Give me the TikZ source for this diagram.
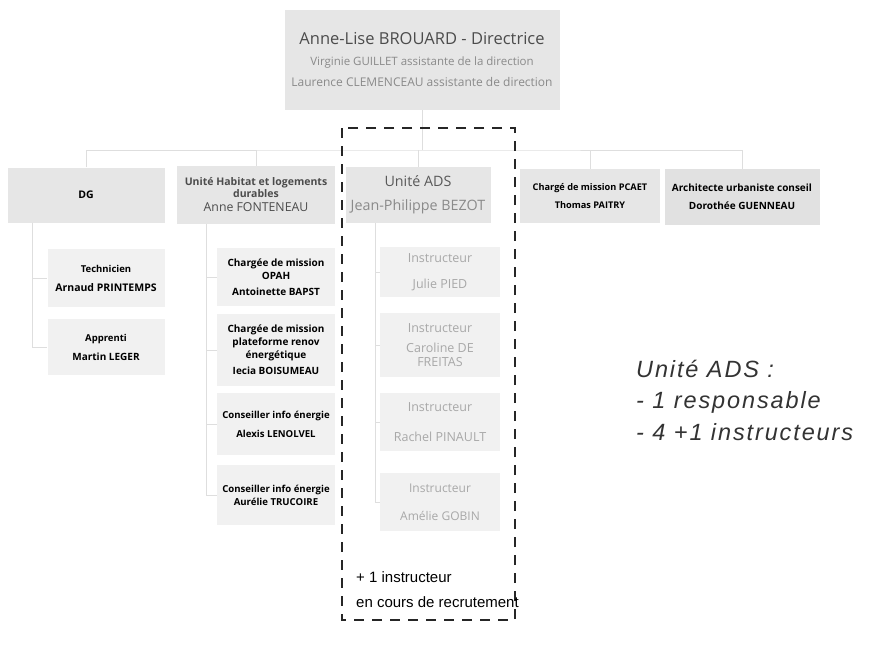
\documentclass[tikz,border=0pt]{standalone}
\usepackage{fontspec}
\setmainfont{Open Sans}
\newfontfamily\arialfont{Liberation Sans}
\newfontfamily\notefont[LetterSpace=8]{Liberation Sans}
\definecolor{boxgray}{HTML}{E6E6E6}
\definecolor{subgray}{HTML}{F1F1F1}
\definecolor{linkgray}{HTML}{DEDEDE}
\definecolor{txtgray}{HTML}{8A8A8A}
\definecolor{txtlight}{HTML}{A8A8A8}
\begin{document}
\begin{tikzpicture}[x=1pt, y=-1pt,
    unitbox/.style={fill=boxgray, draw=none, align=center, inner sep=1pt},
    subbox/.style={fill=subgray, draw=none, align=center, inner sep=1pt},
    link/.style={linkgray, line width=0.8pt}]
    \useasboundingbox (0,0) rectangle (889,645);

    % Direction
    \node[unitbox, minimum width=275, minimum height=100, text=txtgray,
        font=\fontsize{11.5}{21}\selectfont] (dir) at (422,60)
        {{\fontsize{16.5}{14}\selectfont\color{black!70}Anne-Lise BROUARD - Directrice}\\
         Virginie GUILLET assistante de la direction\\
         {\fontsize{12}{10}\selectfont Laurence CLEMENCEAU assistante de direction}};

    % Unités
    \node[unitbox, minimum width=157, minimum height=55, font=\bfseries\fontsize{10.5}{12}\selectfont] (dg) at (86,195) {DG};
    \node[unitbox, minimum width=158, minimum height=58, text=black!70, font=\fontsize{10.5}{12}\selectfont] (hab) at (256,195)
        {\textbf{Unité Habitat et logements}\\\textbf{durables}\\[2pt]{\fontsize{12.3}{12}\selectfont Anne FONTENEAU}};
    \node[unitbox, minimum width=145, minimum height=56, text=txtgray, font=\fontsize{14.3}{24}\selectfont] (ads) at (418,195)
        {{\color{black!65}Unité ADS}\\Jean-Philippe BEZOT};
    \node[unitbox, minimum width=140, minimum height=54, font=\bfseries\fontsize{9.2}{18}\selectfont] (pcaet) at (590,196)
        {Chargé de mission PCAET\\Thomas PAITRY};
    \node[unitbox, minimum width=155, minimum height=56, fill=boxgray!120, font=\bfseries\fontsize{10}{18}\selectfont] (archi) at (742,197)
        {Architecte urbaniste conseil\\Dorothée GUENNEAU};

    % Liens direction - unités
    \coordinate (bus) at (422,150);
    \draw[link] (dir.south) -- (bus);
    \draw[link] (dg.north) |- (bus) -| (archi.north);
    \draw[link] (hab.north) -- (hab.north |- bus);
    \draw[link] (ads.north) -- (ads.north |- bus);
    \draw[link] (pcaet.north) -- (pcaet.north |- bus);

    % DG
    \node[subbox, minimum width=117, minimum height=58, font=\bfseries\fontsize{10.5}{19}\selectfont] (tech) at (106,278)
        {{\fontsize{9.5}{10}\selectfont Technicien}\\Arnaud PRINTEMPS};
    \node[subbox, minimum width=117, minimum height=56, font=\bfseries\fontsize{10}{19}\selectfont] (appr) at (106,347)
        {{\fontsize{9.5}{10}\selectfont Apprenti}\\Martin LEGER};
    \draw[link] ([xshift=25]dg.south west) |- (tech.west);
    \draw[link] ([xshift=25]dg.south west) |- (appr.west);

    % Habitat
    \node[subbox, minimum width=118, minimum height=58, font=\bfseries\fontsize{10}{13}\selectfont] (opah) at (276,277)
        {Chargée de mission\\OPAH\\[3pt]Antoinette BAPST};
    \node[subbox, minimum width=118, minimum height=72, font=\bfseries\fontsize{10}{13}\selectfont] (renov) at (276,350)
        {Chargée de mission\\plateforme renov\\énergétique\\[3pt]Iecia BOISUMEAU};
    \node[subbox, minimum width=118, minimum height=62, font=\bfseries\fontsize{9.6}{19}\selectfont] (cie1) at (276,424)
        {Conseiller info énergie\\Alexis LENOLVEL};
    \node[subbox, minimum width=118, minimum height=60, font=\bfseries\fontsize{9.6}{13}\selectfont] (cie2) at (276,495)
        {Conseiller info énergie\\Aurélie TRUCOIRE};
    \foreach \sub in {opah,renov,cie1,cie2}
        \draw[link] ([xshift=30]hab.south west) |- (\sub.west);

    % ADS
    \node[subbox, minimum width=120, minimum height=50, text=txtlight, font=\fontsize{12.5}{26}\selectfont] (julie) at (440,272)
        {Instructeur\\Julie PIED};
    \node[subbox, minimum width=120, minimum height=64, text=txtlight, font=\fontsize{12.5}{22}\selectfont] (caro) at (440,345)
        {Instructeur\\[-2pt]Caroline DE\\[-8pt]FREITAS};
    \node[subbox, minimum width=120, minimum height=58, text=txtlight, font=\fontsize{12.5}{30}\selectfont] (rachel) at (440,422)
        {Instructeur\\Rachel PINAULT};
    \node[subbox, minimum width=120, minimum height=58, text=txtlight, font=\fontsize{12}{28}\selectfont] (amelie) at (440,502)
        {Instructeur\\Amélie GOBIN};
    \foreach \sub in {julie,caro,rachel,amelie}
        \draw[link] ([xshift=30]ads.south west) |- (\sub.west);

    % Cadre unité ADS
    \draw[black!85, line width=2.4pt, dash pattern=on 10pt off 8pt] (342,128) rectangle (515,620);
    \node[anchor=west, align=left, inner sep=0pt, font=\arialfont\fontsize{15}{25}\selectfont] (recru) at (356,590)
        {+ 1 instructeur\\en cours de recrutement};

    % Note
    \node[anchor=west, align=left, inner sep=0pt, text=black!80, font=\notefont\itshape\fontsize{23.5}{31.5}\selectfont] (note) at (636,400)
        {Unité ADS :\\- 1 responsable\\- 4 +1 instructeurs};
\end{tikzpicture}
\end{document}
